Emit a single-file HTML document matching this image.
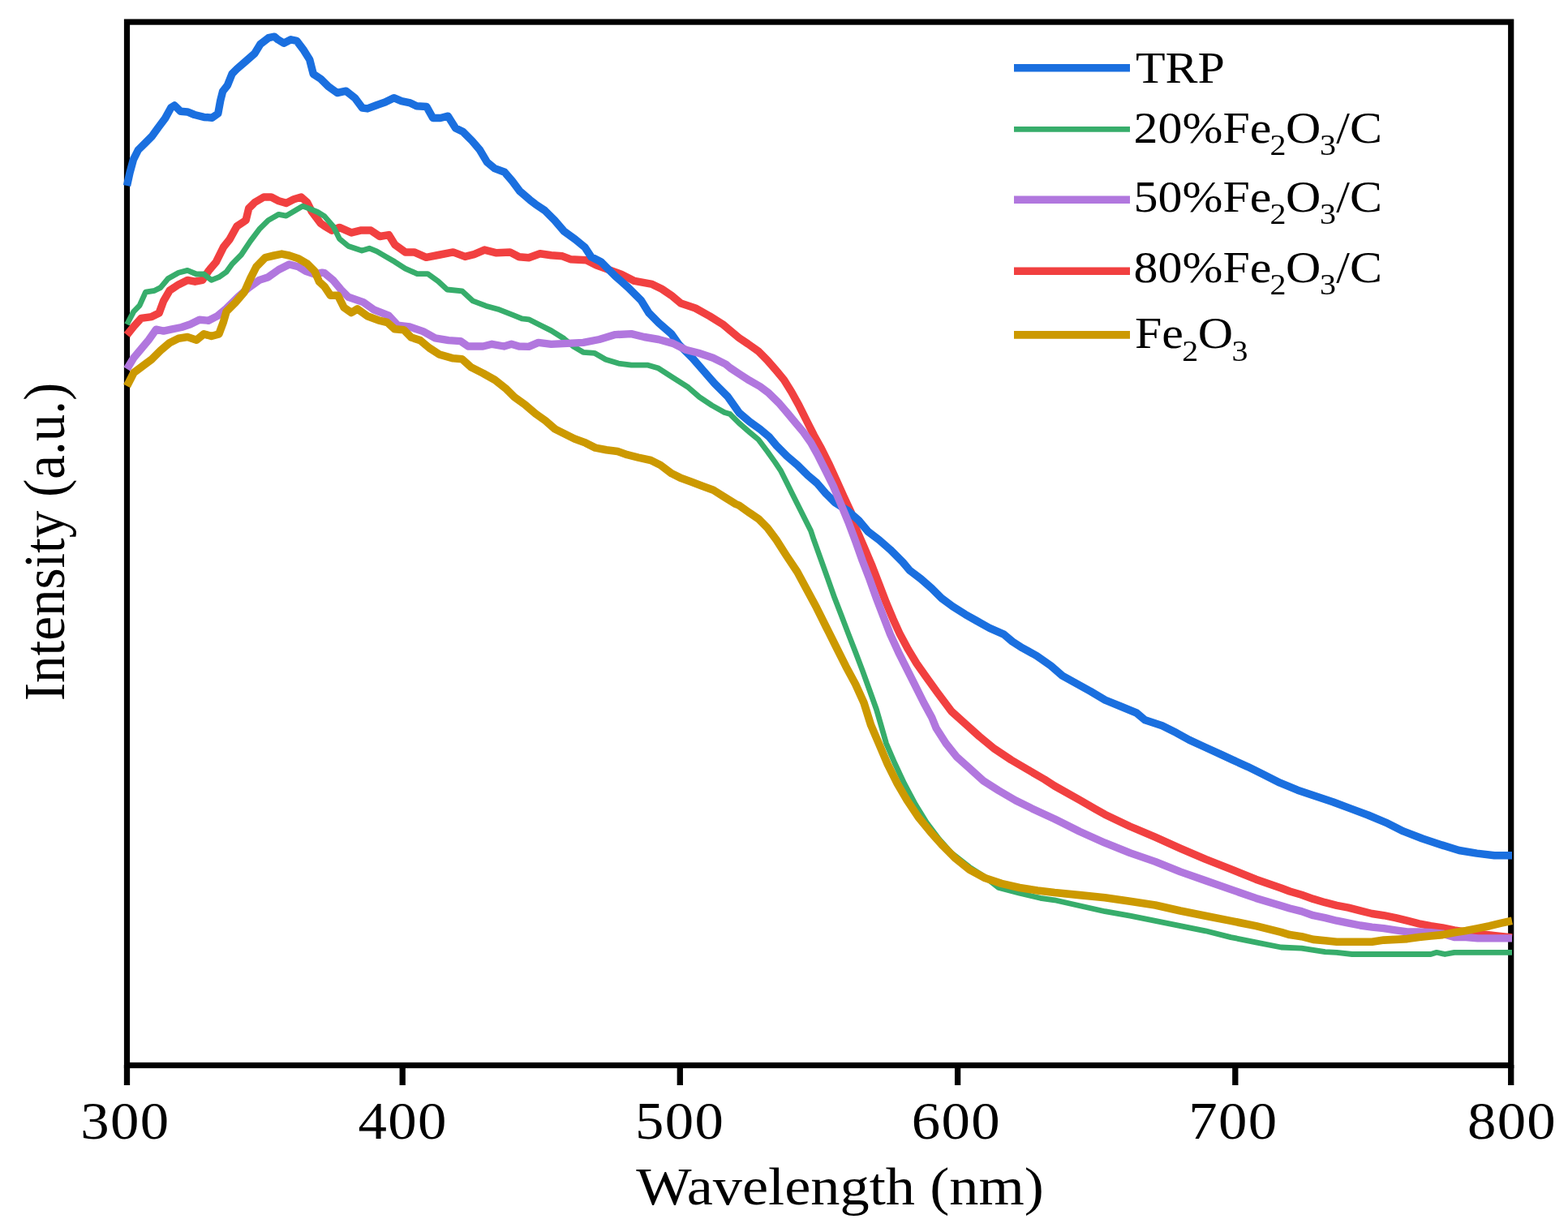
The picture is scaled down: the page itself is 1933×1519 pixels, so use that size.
<!DOCTYPE html>
<html><head><meta charset="utf-8"><title>Intensity vs Wavelength</title>
<style>html,body{margin:0;padding:0;background:#fff;} body{width:1933px;height:1519px;overflow:hidden;} svg{display:block;}</style>
</head><body>
<svg width="1933" height="1519" viewBox="0 0 1933 1519">
<rect width="1933" height="1519" fill="#fff"/>
<rect x="156.5" y="27.1" width="1706.2" height="1286.4" fill="none" stroke="#000" stroke-width="7.2"/>
<line x1="156.5" y1="1313" x2="156.5" y2="1338" stroke="#000" stroke-width="7.3"/>
<line x1="496.2" y1="1313" x2="496.2" y2="1338" stroke="#000" stroke-width="7.3"/>
<line x1="838.3" y1="1313" x2="838.3" y2="1338" stroke="#000" stroke-width="7.3"/>
<line x1="1180.6" y1="1313" x2="1180.6" y2="1338" stroke="#000" stroke-width="7.3"/>
<line x1="1522.8" y1="1313" x2="1522.8" y2="1338" stroke="#000" stroke-width="7.3"/>
<line x1="1862.7" y1="1313" x2="1862.7" y2="1338" stroke="#000" stroke-width="7.3"/>
<polyline points="156.5,413.0 164.8,402.6 174.0,392.4 186.9,390.6 196.1,386.0 201.6,371.2 209.0,358.3 220.1,350.9 231.1,345.4 240.4,347.2 249.6,345.4 256.9,334.3 266.2,323.3 275.4,304.8 282.8,295.6 292.0,279.0 303.1,271.6 306.7,256.9 314.1,249.5 325.2,243.0 334.4,243.0 343.6,247.7 352.8,250.4 362.1,245.8 371.3,243.0 378.7,249.5 384.2,260.6 395.3,275.3 400.0,278.6 409.2,284.1 418.4,280.4 433.2,286.9 444.3,284.1 457.2,284.1 468.2,291.5 479.3,289.6 486.7,301.6 499.6,310.9 510.6,310.9 525.4,317.3 540.1,314.5 558.6,310.9 573.3,316.4 584.4,313.6 597.3,308.1 612.1,311.8 628.7,310.9 640.0,316.8 651.9,317.8 665.7,312.8 679.5,314.8 693.3,315.8 703.2,319.7 723.0,320.7 734.8,326.7 750.6,332.6 766.4,338.5 782.2,346.4 803.9,350.4 815.8,356.3 827.6,364.2 839.5,374.1 857.3,380.0 875.0,389.9 890.8,399.7 900.0,407.4 911.1,416.6 922.1,424.0 935.0,433.2 946.1,444.3 957.2,457.2 966.4,468.2 975.6,483.0 984.8,499.6 994.0,518.0 1003.3,536.5 1012.5,553.0 1021.7,571.5 1030.9,591.8 1040.1,612.1 1049.4,632.3 1054.7,650.3 1065.0,674.2 1075.2,698.2 1083.8,720.5 1092.3,742.7 1100.9,763.2 1109.5,782.1 1119.7,800.9 1130.0,818.0 1142.0,835.1 1155.7,854.0 1173.0,877.1 1190.1,892.5 1207.2,907.9 1226.0,923.3 1246.6,937.0 1267.1,949.0 1287.7,961.0 1300.0,969.0 1331.0,986.4 1350.0,997.3 1362.1,1004.2 1393.1,1019.0 1424.2,1032.2 1455.2,1046.1 1486.2,1059.3 1517.3,1071.7 1548.3,1084.2 1579.4,1095.0 1590.0,1099.0 1604.5,1103.3 1619.0,1108.4 1633.5,1112.7 1647.9,1116.3 1662.4,1119.2 1676.9,1122.9 1691.4,1126.5 1705.9,1128.7 1720.4,1131.6 1734.8,1135.2 1749.3,1138.8 1763.8,1141.7 1778.3,1143.9 1792.8,1147.0 1820.0,1151.0 1841.0,1153.5 1864.0,1156.0" fill="none" stroke="#F14040" stroke-width="9.5" stroke-linejoin="round" stroke-linecap="butt"/>
<polyline points="156.5,400.0 164.8,384.1 172.1,376.7 179.5,360.1 190.6,358.3 197.9,354.6 207.2,343.5 220.1,336.2 231.1,333.4 242.2,338.0 251.4,338.0 260.6,345.4 269.9,341.7 279.1,335.2 286.5,325.1 297.5,314.0 308.6,297.4 319.6,282.7 330.7,271.6 343.6,264.3 352.8,266.1 362.1,260.6 373.1,254.1 380.5,256.9 391.6,261.5 400.0,266.6 411.1,279.5 418.4,294.3 429.5,303.5 446.1,309.0 455.3,306.2 464.5,309.9 475.6,316.4 486.7,322.8 499.6,331.1 514.3,337.6 527.2,337.6 540.1,346.8 551.2,357.0 569.6,358.8 582.6,370.8 599.1,377.2 615.7,381.8 632.3,388.3 643.4,392.9 651.9,393.8 663.7,399.7 679.5,407.6 695.3,417.5 707.2,427.4 719.0,434.3 732.8,435.3 746.7,443.2 762.5,448.1 778.3,450.1 798.0,450.1 811.8,454.1 829.7,465.7 848.6,477.7 862.3,489.6 877.7,499.9 893.1,508.5 900.0,510.6 911.1,521.7 924.0,532.8 935.0,542.0 946.1,556.7 955.3,569.6 962.7,580.7 970.1,595.5 977.4,610.2 984.8,625.0 992.2,639.7 999.6,654.5 1003.3,665.7 1011.9,689.6 1020.5,713.6 1029.0,737.6 1037.6,759.8 1046.1,782.1 1054.7,804.3 1063.2,826.6 1071.8,850.5 1080.4,874.5 1085.5,892.0 1092.5,916.5 1102.8,940.5 1114.8,966.1 1128.5,991.8 1142.2,1014.0 1157.6,1034.6 1173.0,1051.7 1195.0,1069.0 1214.0,1081.0 1231.2,1094.5 1256.9,1101.3 1282.5,1107.3 1300.0,1109.8 1331.0,1116.8 1362.1,1123.7 1393.1,1129.2 1424.2,1135.4 1455.2,1141.6 1486.2,1147.8 1517.3,1155.6 1548.3,1161.8 1579.4,1168.0 1604.5,1169.2 1619.0,1171.4 1633.5,1173.6 1647.9,1174.3 1666.8,1176.5 1691.4,1176.5 1720.4,1176.5 1749.3,1176.5 1763.8,1176.5 1771.1,1174.3 1781.2,1176.5 1792.8,1174.3 1821.7,1174.3 1864.0,1174.3" fill="none" stroke="#37AD6B" stroke-width="6.8" stroke-linejoin="round" stroke-linecap="butt"/>
<polyline points="156.5,229.0 160.0,213.0 164.5,196.6 170.3,185.0 179.0,176.3 187.7,167.6 194.9,157.5 203.6,145.9 210.8,132.8 215.2,130.0 222.4,137.2 231.0,137.9 239.8,141.5 251.4,144.4 261.5,145.2 268.8,140.0 271.7,124.1 274.6,112.6 280.4,105.3 286.2,90.8 292.0,85.0 302.0,76.3 313.7,66.2 320.9,54.6 331.0,46.7 338.3,45.2 342.6,48.8 349.9,53.2 358.6,48.8 365.8,50.3 374.5,61.9 381.7,73.5 386.2,91.2 395.5,97.4 404.8,106.7 415.7,114.5 426.6,112.2 437.4,120.7 446.7,133.1 453.0,133.9 465.4,129.2 474.7,126.1 485.5,120.7 494.9,124.6 505.7,126.9 513.5,130.8 525.9,131.6 533.7,145.5 543.0,145.5 552.3,143.2 561.6,158.0 570.9,162.6 581.8,173.5 591.1,184.3 600.4,199.9 609.7,207.6 622.1,212.3 631.4,223.1 640.7,235.6 653.2,246.4 659.8,251.6 671.6,259.5 683.5,271.4 695.3,285.2 709.1,295.1 721.0,304.9 728.9,316.8 740.7,322.7 758.5,340.5 774.3,354.3 790.1,370.1 800.0,385.9 811.8,397.8 827.6,411.6 837.5,425.4 853.3,441.2 867.1,457.0 881.0,472.8 896.8,488.6 911.1,508.8 924.0,519.9 936.9,529.1 947.9,538.3 957.2,549.4 970.1,562.3 983.0,573.3 995.9,586.2 1007.0,595.5 1018.0,608.4 1029.1,619.4 1043.8,628.7 1058.6,641.6 1070.1,655.4 1083.8,665.7 1097.5,677.7 1112.9,693.1 1121.4,703.3 1135.1,713.6 1148.8,725.6 1160.8,737.6 1174.5,747.8 1190.0,757.6 1204.1,765.5 1219.9,774.3 1237.5,782.2 1248.0,791.0 1260.4,798.9 1278.0,808.6 1295.5,820.9 1309.6,833.2 1327.2,842.9 1344.8,852.6 1362.4,863.1 1381.7,871.0 1401.1,879.0 1411.6,887.8 1432.7,894.8 1450.3,903.6 1466.2,912.4 1485.5,921.2 1506.6,930.9 1520.0,937.1 1538.1,945.3 1556.2,954.3 1577.9,965.2 1599.7,974.2 1621.4,981.5 1643.1,988.7 1664.8,996.9 1686.6,1005.0 1708.3,1014.1 1730.0,1024.9 1753.6,1034.0 1775.3,1041.2 1798.8,1048.5 1820.6,1052.1 1842.3,1054.8 1864.0,1054.8" fill="none" stroke="#1A6FDF" stroke-width="9.5" stroke-linejoin="round" stroke-linecap="butt"/>
<polyline points="156.5,455.0 164.8,441.3 174.0,430.2 183.2,419.2 192.4,406.2 201.6,408.1 210.9,406.2 223.8,403.5 234.8,399.8 245.9,394.3 257.0,395.2 268.0,389.6 279.1,380.4 293.8,365.7 306.7,354.6 319.6,345.4 330.7,341.7 343.6,332.5 356.5,326.0 367.6,328.8 376.8,334.3 387.9,338.0 397.1,336.2 400.0,336.7 411.1,345.9 420.3,357.0 429.5,366.2 447.9,372.6 460.9,381.8 479.3,389.2 490.4,401.2 505.1,403.0 521.7,408.6 536.5,416.9 553.0,419.6 567.8,420.6 577.0,427.0 595.5,427.0 606.5,424.3 621.3,427.0 630.5,424.3 639.7,427.0 651.9,427.4 663.7,422.4 679.5,424.4 699.3,423.4 719.0,422.4 738.8,418.5 758.5,412.6 778.3,411.6 794.1,415.5 811.8,418.5 829.6,423.4 845.4,431.3 861.2,435.3 879.0,441.2 894.8,449.1 900.0,453.5 911.1,460.9 924.0,469.2 936.9,476.5 947.9,484.8 960.9,497.7 971.9,510.6 981.1,521.7 990.4,532.8 999.6,545.7 1008.8,562.3 1018.0,580.7 1027.2,599.1 1036.5,621.3 1045.7,643.4 1054.7,667.4 1063.2,691.4 1071.8,713.6 1080.4,737.6 1088.9,759.8 1097.5,782.1 1107.7,804.3 1118.0,824.9 1128.3,845.4 1138.6,866.0 1148.8,884.8 1154.1,897.7 1166.1,916.5 1179.8,933.6 1195.2,947.3 1212.3,962.7 1231.2,974.7 1251.7,986.7 1272.3,996.9 1300.0,1009.7 1331.0,1025.2 1362.1,1039.2 1393.1,1051.6 1424.2,1062.4 1455.2,1074.9 1486.2,1085.7 1517.3,1096.6 1548.3,1107.4 1579.4,1116.8 1590.0,1120.0 1604.5,1123.6 1619.0,1128.7 1633.5,1131.6 1647.9,1135.2 1662.4,1138.1 1676.9,1141.0 1691.4,1143.1 1705.9,1144.6 1720.4,1146.8 1734.8,1148.9 1749.3,1148.9 1763.8,1149.7 1778.3,1151.1 1792.8,1155.5 1807.3,1155.5 1821.7,1156.9 1836.2,1156.9 1864.0,1156.9" fill="none" stroke="#B177DE" stroke-width="9.4" stroke-linejoin="round" stroke-linecap="butt"/>
<polyline points="156.5,476.0 164.8,459.7 175.8,451.4 186.9,443.1 197.9,432.1 209.0,422.8 220.1,417.3 231.1,415.5 242.2,419.2 251.4,411.8 260.6,414.5 269.9,411.8 275.4,397.0 279.1,384.1 290.1,373.1 301.2,360.1 308.6,343.5 316.0,328.8 327.0,317.7 338.1,315.0 347.3,313.1 356.5,315.0 367.6,318.7 378.7,325.1 387.9,334.3 393.4,347.2 400.0,353.3 407.4,364.3 416.6,364.3 424.0,379.1 433.2,385.5 440.6,380.9 453.5,390.1 466.4,394.8 477.4,397.5 486.7,405.8 497.7,406.7 507.0,416.0 518.0,419.6 529.1,428.9 542.0,437.2 558.6,441.8 569.6,442.7 580.7,452.8 595.5,460.2 610.2,468.5 623.1,478.7 634.2,489.7 647.1,498.9 660.3,510.2 672.3,518.7 684.2,529.0 696.2,535.0 708.2,541.0 721.9,546.1 733.9,552.1 747.6,554.7 761.3,556.4 773.2,560.7 786.9,564.1 802.3,567.5 814.3,573.5 828.0,583.8 838.3,588.9 852.0,594.1 865.7,599.2 879.4,604.3 893.1,612.9 906.8,621.4 911.1,623.1 924.0,632.3 935.0,639.7 946.1,650.8 957.1,665.7 969.1,684.5 982.8,705.0 994.8,727.3 1006.8,749.6 1018.7,773.5 1030.7,797.5 1042.7,821.4 1054.7,843.7 1065.0,866.5 1073.7,894.2 1084.0,918.2 1094.2,942.2 1106.2,966.1 1118.2,986.7 1131.9,1007.2 1147.3,1026.0 1162.7,1043.2 1178.1,1058.6 1195.2,1072.3 1214.1,1082.5 1234.6,1089.4 1256.9,1094.5 1279.1,1097.9 1300.0,1100.5 1331.0,1103.6 1362.1,1106.7 1393.1,1111.3 1424.2,1116.0 1455.2,1123.0 1486.2,1129.2 1517.3,1135.4 1548.3,1141.6 1579.4,1149.4 1590.0,1152.6 1604.5,1154.7 1619.0,1158.4 1633.5,1159.8 1647.9,1161.3 1662.4,1161.3 1676.9,1161.3 1691.4,1161.3 1705.9,1159.1 1720.4,1158.4 1734.8,1157.6 1749.3,1155.5 1763.8,1154.0 1778.3,1152.6 1792.8,1149.7 1807.3,1147.5 1821.7,1144.6 1836.2,1141.7 1850.7,1138.1 1864.0,1135.2" fill="none" stroke="#CC9900" stroke-width="9.6" stroke-linejoin="round" stroke-linecap="butt"/>
<text transform="translate(154.3,1404) scale(1.09,1)" text-anchor="middle" style="font-family:'Liberation Serif','Times New Roman',serif;font-size:65px;letter-spacing:1.2px">300</text>
<text transform="translate(496.7,1404) scale(1.09,1)" text-anchor="middle" style="font-family:'Liberation Serif','Times New Roman',serif;font-size:65px;letter-spacing:1.2px">400</text>
<text transform="translate(838.1,1404) scale(1.09,1)" text-anchor="middle" style="font-family:'Liberation Serif','Times New Roman',serif;font-size:65px;letter-spacing:1.2px">500</text>
<text transform="translate(1178.8,1404) scale(1.09,1)" text-anchor="middle" style="font-family:'Liberation Serif','Times New Roman',serif;font-size:65px;letter-spacing:1.2px">600</text>
<text transform="translate(1520.3,1404) scale(1.09,1)" text-anchor="middle" style="font-family:'Liberation Serif','Times New Roman',serif;font-size:65px;letter-spacing:1.2px">700</text>
<text transform="translate(1864.0,1404) scale(1.09,1)" text-anchor="middle" style="font-family:'Liberation Serif','Times New Roman',serif;font-size:65px;letter-spacing:1.2px">800</text>
<text transform="translate(1035.5,1485.3) scale(1.097,1)" text-anchor="middle" style="font-family:'Liberation Serif','Times New Roman',serif;font-size:66px">Wavelength (nm)</text>
<text transform="translate(78.6,668) scale(1.07,1) rotate(-90)" text-anchor="middle" style="font-family:'Liberation Serif','Times New Roman',serif;font-size:67px">Intensity (a.u.)</text>
<line x1="1250" y1="83.7" x2="1393" y2="83.7" stroke="#1A6FDF" stroke-width="9.5"/>
<line x1="1250" y1="159.3" x2="1393" y2="159.3" stroke="#37AD6B" stroke-width="6.8"/>
<line x1="1250" y1="246.2" x2="1393" y2="246.2" stroke="#B177DE" stroke-width="9.4"/>
<line x1="1250" y1="334.3" x2="1393" y2="334.3" stroke="#F14040" stroke-width="9.5"/>
<line x1="1250" y1="412.9" x2="1393" y2="412.9" stroke="#CC9900" stroke-width="9.6"/>
<text transform="translate(1400,102) scale(1.11,1)" style="font-family:'Liberation Serif','Times New Roman',serif;font-size:54px">TRP</text>
<text transform="translate(1397.6,175.7) scale(1.11,1)" style="font-family:'Liberation Serif','Times New Roman',serif;font-size:54px">20%Fe<tspan dx="-1.6" dy="15" style="font-size:36px">2</tspan><tspan dx="-0.4" dy="-15">O</tspan><tspan dx="-1.3" dy="15" style="font-size:36px">3</tspan><tspan dx="0.4" dy="-15">/C</tspan></text>
<text transform="translate(1397.6,261.2) scale(1.11,1)" style="font-family:'Liberation Serif','Times New Roman',serif;font-size:54px">50%Fe<tspan dx="-1.6" dy="15" style="font-size:36px">2</tspan><tspan dx="-0.4" dy="-15">O</tspan><tspan dx="-1.3" dy="15" style="font-size:36px">3</tspan><tspan dx="0.4" dy="-15">/C</tspan></text>
<text transform="translate(1397.6,348.4) scale(1.11,1)" style="font-family:'Liberation Serif','Times New Roman',serif;font-size:54px">80%Fe<tspan dx="-1.6" dy="15" style="font-size:36px">2</tspan><tspan dx="-0.4" dy="-15">O</tspan><tspan dx="-1.3" dy="15" style="font-size:36px">3</tspan><tspan dx="0.4" dy="-15">/C</tspan></text>
<text transform="translate(1399,428.5) scale(1.11,1)" style="font-family:'Liberation Serif','Times New Roman',serif;font-size:54px">Fe<tspan dx="-1.6" dy="16.4" style="font-size:36px">2</tspan><tspan dx="-0.4" dy="-16.4">O</tspan><tspan dx="-1.3" dy="16.4" style="font-size:36px">3</tspan><tspan dx="0.4" dy="-16.4"></tspan></text>
</svg>
</body></html>
